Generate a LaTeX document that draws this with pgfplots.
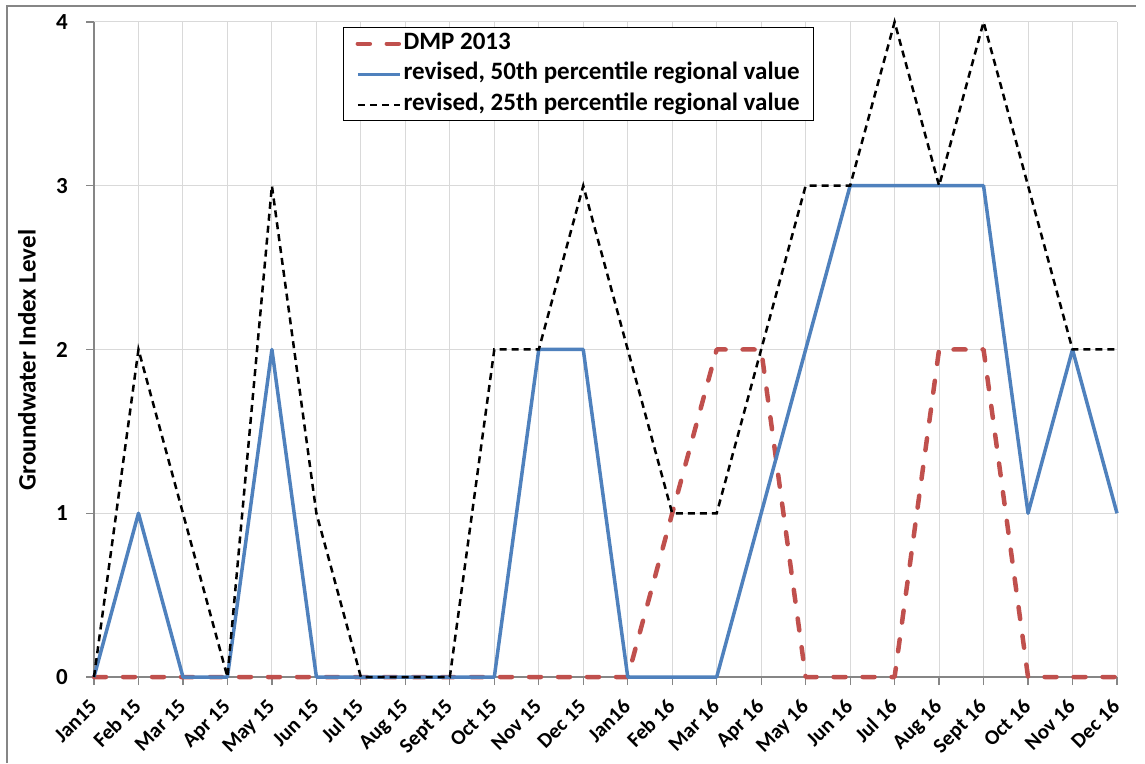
\documentclass[border=0pt]{standalone}
\usepackage{pgfplots}
\pgfplotsset{compat=1.18}
\usepackage{fontspec}
\setmainfont{Carlito}
\definecolor{dmpred}{HTML}{C0504D}
\definecolor{revblue}{HTML}{4F81BD}
\definecolor{gridgray}{HTML}{D9D9D9}
\definecolor{axisgray}{HTML}{868686}
\begin{document}
\begin{tikzpicture}
\path[use as bounding box] (0,0) rectangle (1145pt,763pt);
\draw[axisgray, line width=1.5pt] (7pt,0pt) -- (7pt,757pt) -- (1136pt,757pt);
\begin{axis}[
  at={(94pt,86pt)}, anchor=south west,
  scale only axis, width=1023pt, height=655pt,
  xmin=0, xmax=23, ymin=0, ymax=4,
  clip=false,
  xtick={0,...,23},
  xticklabels={Jan15, Feb 15, Mar 15, Apr 15, May 15, Jun 15, Jul 15, Aug 15, Sept 15, Oct 15, Nov 15, Dec 15, Jan16, Feb 16, Mar 16, Apr 16, May 16, Jun 16, Jul 16, Aug 16, Sept 16, Oct 16, Nov 16, Dec 16},
  ytick={0,1,2,3,4},
  grid=major, grid style={gridgray, line width=1pt},
  axis lines*=left,
  axis line style={axisgray, line width=1.2pt},
  tick style={axisgray, line width=1.2pt},
  tick align=outside, major tick length=8pt,
  /pgf/number format/assume math mode=true,
  yticklabel style={font=\fontsize{23}{28}\selectfont\bfseries, inner sep=0pt, xshift=-18pt},
  xticklabel style={font=\fontsize{21}{25}\selectfont\bfseries, anchor=base east, inner sep=0pt, xshift=4pt, yshift=-23pt, rotate=45},
  ylabel={Groundwater Index Level},
  ylabel style={at={(axis description cs:-0.0655,0.484)}, anchor=center, font=\fontsize{25}{30}\selectfont\bfseries},
  legend style={at={(rel axis cs:0.2434,0.992)}, anchor=north west, draw=black, line width=1.2pt,
    font=\fontsize{25}{30}\selectfont\bfseries, inner xsep=12pt, inner ysep=3pt, row sep=4.5pt,
    nodes={inner sep=1.5pt, text height=17pt, text depth=6pt}},
  legend cell align=left,
  legend image code/.code={\draw[#1] (0pt,0pt) -- (42pt,0pt);},
]
\addplot[dmpred, line width=4.5pt, dash pattern=on 12pt off 17pt, line cap=round, line join=round] coordinates {
(0,0) (1,0) (2,0) (3,0) (4,0) (5,0) (6,0) (7,0) (8,0) (9,0) (10,0) (11,0)
(12,0) (13,1) (14,2) (15,2) (16,0) (17,0) (18,0) (19,2) (20,2) (21,0) (22,0) (23,0)};
\addlegendentry{DMP 2013}
\addplot[revblue, line width=3.5pt, line join=round] coordinates {
(0,0) (1,1) (2,0) (3,0) (4,2) (5,0) (6,0) (7,0) (8,0) (9,0) (10,2) (11,2)
(12,0) (13,0) (14,0) (15,1) (16,2) (17,3) (18,3) (19,3) (20,3) (21,1) (22,2) (23,1)};
\addlegendentry{revised, 50th percentile regional value}
\addplot[black, line width=2.5pt, dash pattern=on 7pt off 5pt] coordinates {
(0,0) (1,2) (2,1) (3,0) (4,3) (5,1) (6,0) (7,0) (8,0) (9,2) (10,2) (11,3)
(12,2) (13,1) (14,1) (15,2) (16,3) (17,3) (18,4) (19,3) (20,4) (21,3) (22,2) (23,2)};
\addlegendentry{revised, 25th percentile regional value}
\end{axis}
\end{tikzpicture}
\end{document}
